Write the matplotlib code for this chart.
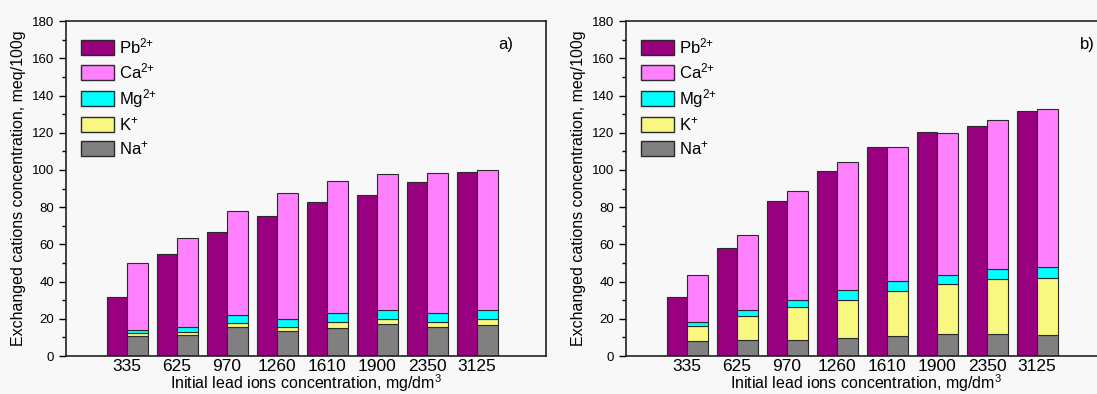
import matplotlib
matplotlib.use("Agg")

import matplotlib.pyplot as plt
import numpy as np
from matplotlib.ticker import MultipleLocator
from matplotlib.patches import Patch

plt.rcParams["font.family"] = ["Liberation Sans", "DejaVu Sans"]
plt.rcParams["mathtext.fontset"] = "custom"
plt.rcParams["mathtext.rm"] = "Liberation Sans"
plt.rcParams["mathtext.it"] = "Liberation Sans"
plt.rcParams["mathtext.default"] = "regular"

# Initial Pb concentrations, mg/dm3
categories = ["335", "625", "970", "1260", "1610", "1900", "2350", "3125"]

# panel a) — stacked components (meq/100g)
pb_a = [31.5, 54.7, 66.4, 75.2, 82.6, 86.4, 93.3, 98.7]
na_a = [11.0, 11.2, 15.5, 13.4, 15.3, 17.0, 15.5, 16.7]
k_a = [1.2, 1.7, 2.0, 2.3, 3.0, 3.0, 3.0, 3.3]
mg_a = [1.8, 2.8, 4.7, 4.3, 5.0, 5.0, 4.8, 4.9]
ca_a = [36.1, 47.8, 55.5, 67.7, 70.8, 72.9, 75.1, 74.9]

# panel b)
pb_b = [31.5, 58.1, 83.4, 99.7, 112.4, 120.4, 123.4, 131.8]
na_b = [7.9, 8.8, 8.8, 9.8, 10.9, 11.6, 11.6, 11.3]
k_b = [8.4, 12.5, 17.3, 20.4, 24.3, 26.9, 29.6, 30.7]
mg_b = [2.1, 3.6, 3.8, 5.2, 5.2, 5.2, 5.5, 5.6]
ca_b = [25.3, 40.1, 59.0, 68.9, 72.1, 76.2, 80.2, 85.3]

c_pb, c_ca, c_mg, c_k, c_na = "#990080", "#ff80ff", "#00ffff", "#f8f880", "#808080"
bg = "#f8f8f8"


def draw(ax, pb, na, k, mg, ca, tag, tag_x):
    x = np.arange(len(categories))
    w = 0.41
    ec = "#2a2a2a"
    lw = 0.8
    ax.bar(x - w / 2, pb, w, color=c_pb, edgecolor=ec, linewidth=lw)
    bottom = np.zeros(len(categories))
    for vals, col in [(na, c_na), (k, c_k), (mg, c_mg), (ca, c_ca)]:
        ax.bar(x + w / 2, vals, w, bottom=bottom, color=col, edgecolor=ec, linewidth=lw)
        bottom += np.array(vals)

    ax.set_facecolor(bg)
    ax.set_xlim(-1.22, 8.38)
    ax.set_ylim(0, 180)
    ax.set_xticks(x)
    ax.set_xticklabels(categories, fontsize=12.5)
    ax.tick_params(axis="x", length=0, pad=2)
    ax.yaxis.set_major_locator(MultipleLocator(20))
    ax.yaxis.set_minor_locator(MultipleLocator(10))
    ax.tick_params(axis="y", which="major", length=5, width=1, labelsize=9.5, direction="out")
    ax.tick_params(axis="y", which="minor", length=3, width=1, direction="out")
    for s in ax.spines.values():
        s.set_linewidth(1.2)
        s.set_color("#222222")
    ax.set_xlabel("Initial lead ions concentration, mg/dm$^{3}$", fontsize=11.5, labelpad=-1)
    ax.set_ylabel("Exchanged cations concentration, meq/100g", fontsize=11.5, labelpad=4)

    handles = [
        Patch(facecolor=c_pb, edgecolor=ec, label="Pb$^{2{+}}$"),
        Patch(facecolor=c_ca, edgecolor=ec, label="Ca$^{2{+}}$"),
        Patch(facecolor=c_mg, edgecolor=ec, label="Mg$^{2{+}}$"),
        Patch(facecolor=c_k, edgecolor=ec, label="K$^{{+}}$"),
        Patch(facecolor=c_na, edgecolor=ec, label="Na$^{{+}}$"),
    ]
    ax.legend(handles=handles, loc="upper left", bbox_to_anchor=(0.0, 1.0),
              frameon=False, fontsize=12, handlelength=2.0, handleheight=1.0,
              labelspacing=0.33, handletextpad=0.3, borderaxespad=0.6, borderpad=0.3)
    ax.text(tag_x, 0.93, tag, transform=ax.transAxes, fontsize=12, ha="left", va="center")


fig = plt.figure(figsize=(10.97, 3.94), dpi=100, facecolor=bg)
ax1 = fig.add_axes([0.0602, 0.0964, 0.4376, 0.850])
ax2 = fig.add_axes([0.5707, 0.0964, 0.4376, 0.850])

draw(ax1, pb_a, na_a, k_a, mg_a, ca_a, "a)", 0.90)
draw(ax2, pb_b, na_b, k_b, mg_b, ca_b, "b)", 0.946)

fig.savefig("out.png", dpi=100, facecolor=bg)
plt.close(fig)
